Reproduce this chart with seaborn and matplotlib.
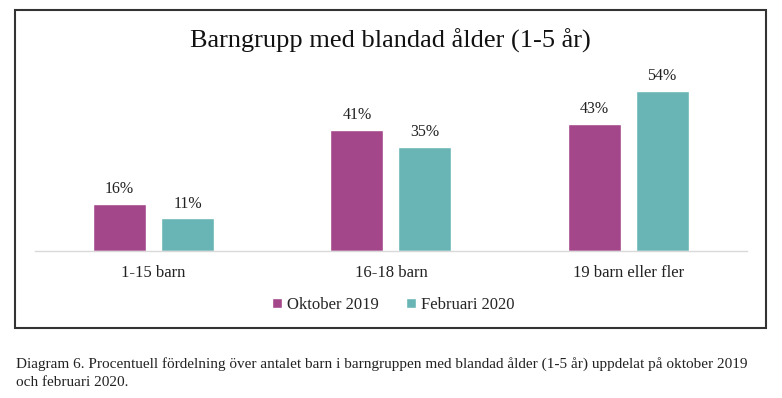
import pandas as pd
import seaborn as sns
import matplotlib.pyplot as plt
from matplotlib.patches import Rectangle

categories = ['1-15 barn', '16-18 barn', '19 barn eller fler']
periods = ['Oktober 2019', 'Februari 2020']
oktober_2019 = [16, 41, 43]
februari_2020 = [11, 35, 54]
colors = ['#A4478A', '#69B5B5']

title = 'Barngrupp med blandad ålder (1-5 år)'
caption = ('Diagram 6. Procentuell fördelning över antalet barn i barngruppen med blandad ålder (1-5 år) '
           'uppdelat på oktober 2019\noch februari 2020.')

df = pd.DataFrame({
    'Kategori': categories * 2,
    'Period': [periods[0]] * 3 + [periods[1]] * 3,
    'Andel': oktober_2019 + februari_2020,
})

sns.set_style('white')
plt.rcParams['font.family'] = ['Liberation Serif', 'DejaVu Serif']

fig = plt.figure(figsize=(7.82, 3.98), dpi=100)
ax = fig.add_axes([0.0448, 0.3693, 0.9102, 0.4797])

sns.barplot(data=df, x='Kategori', y='Andel', hue='Period', palette=colors,
            width=0.573, gap=0.22, ax=ax, saturation=1)

for container in ax.containers:
    ax.bar_label(container, labels=[f'{v:.0f}%' for v in container.datavalues],
                 padding=5, fontsize=11.5, color='#222222')

ax.set_xlim(-0.5, 2.5)
ax.set_ylim(0, 64.5)
ax.set_xlabel('')
ax.set_ylabel('')
ax.set_yticks([])
ax.tick_params(axis='x', length=0, pad=10, labelsize=12, labelcolor='#222222')
for side in ['top', 'right', 'left']:
    ax.spines[side].set_visible(False)
ax.spines['bottom'].set_color('#D9D9D9')
ax.spines['bottom'].set_linewidth(1)

ax.legend(loc='center', bbox_to_anchor=(0.503, 0.2337), bbox_transform=fig.transFigure,
          ncol=2, frameon=False, fontsize=12, handlelength=0.6, handleheight=0.6,
          handletextpad=0.3, columnspacing=1.6)

fig.text(0.499, 0.897, title, ha='center', va='center', fontsize=19, color='#111111')

# frame around the chart
fig.patches.append(Rectangle((0.0192, 0.1759), 0.9603, 0.799, transform=fig.transFigure,
                             fill=False, edgecolor='#333333', linewidth=1.5))

fig.text(0.0205, 0.102, caption, ha='left', va='top', fontsize=11.0,
         color='#222222', linespacing=1.5)

plt.savefig('out.png', dpi=100)
